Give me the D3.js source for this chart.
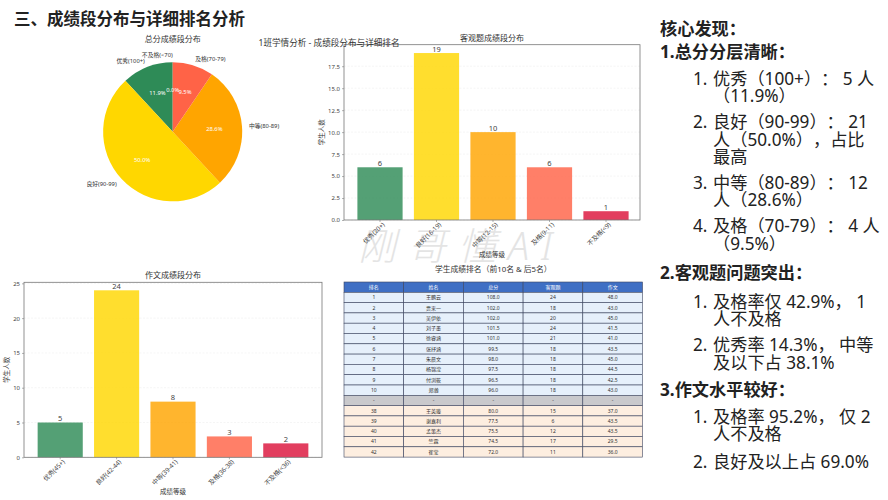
<!DOCTYPE html>
<html>
<head>
<meta charset="utf-8">
<script src="https://cdn.jsdelivr.net/npm/d3@7"></script>
<style>
  html, body { margin: 0; padding: 0; background: #fff; }
  svg { display: block; }
  text { font-family: "Noto Sans", "Noto Sans CJK SC", sans-serif; text-spacing-trim: space-all; }
</style>
</head>
<body>
<div id="chart"></div>
<script>
// Data
const gradeColors = ['#2E8B57', '#FFD700', '#FFA500', '#FF6347', '#DC143C'];

const totalLabels = ['优秀(100+)', '良好(90-99)', '中等(80-89)', '及格(70-79)', '不及格(<70)'];
const totalCounts = [5, 21, 12, 4, 0];

const objectiveLabels = ['优秀(20+)', '良好(16-19)', '中等(12-15)', '及格(9-11)', '不及格(<9)'];
const objectiveCounts = [6, 19, 10, 6, 1];
const objectiveTicks = [0, 2.5, 5, 7.5, 10, 12.5, 15, 17.5];

const essayLabels = ['优秀(45+)', '良好(42-44)', '中等(39-41)', '及格(36-38)', '不及格(<36)'];
const essayCounts = [5, 24, 8, 3, 2];
const essayTicks = [0, 5, 10, 15, 20, 25];

const tableHeader = ['排名', '姓名', '总分', '客观题', '作文'];
const tableRows = [
    ['1', '王鹏云', '108.0', '24', '48.0'],
    ['2', '贾来一', '102.0', '18', '43.0'],
    ['3', '吴伊依', '102.0', '20', '45.0'],
    ['4', '刘子墨', '101.5', '24', '41.5'],
    ['5', '徐睿涵', '101.0', '21', '41.0'],
    ['6', '张抒涵', '99.5', '18', '43.5'],
    ['7', '朱晨文', '98.0', '18', '45.0'],
    ['8', '杨锦滢', '97.5', '18', '44.5'],
    ['9', '付浏筱', '96.5', '18', '42.5'],
    ['10', '郑瀚', '96.0', '18', '43.0'],
    ['-', '-', '-', '-', '-'],
    ['38', '王英璇', '80.0', '15', '37.0'],
    ['39', '谢嘉利', '77.5', '6', '43.5'],
    ['40', '孟策杰', '75.5', '12', '43.5'],
    ['41', '竺霖', '74.5', '17', '29.5'],
    ['42', '崔莹', '72.0', '11', '36.0']
];

const noteLines = [
    ['head', '', '核心发现：'],
    ['head', '', '1.总分分层清晰：'],
    ['item', '1.', '优秀（100+）： 5 人'],
    ['more', '', '（11.9%）'],
    ['item', '2.', '良好（90-99）： 21'],
    ['more', '', '人（50.0%），占比'],
    ['more', '', '最高'],
    ['item', '3.', '中等（80-89）： 12'],
    ['more', '', '人（28.6%）'],
    ['item', '4.', '及格（70-79）： 4 人'],
    ['more', '', '（9.5%）'],
    ['head', '', '2.客观题问题突出：'],
    ['item', '1.', '及格率仅 42.9%， 1'],
    ['more', '', '人不及格'],
    ['item', '2.', '优秀率 14.3%， 中等'],
    ['more', '', '及以下占 38.1%'],
    ['head', '', '3.作文水平较好：'],
    ['item', '1.', '及格率 95.2%， 仅 2'],
    ['more', '', '人不及格'],
    ['item', '2.', '良好及以上占 69.0%']
];

const svg = d3.select('#chart').append('svg')
    .attr('width', 888)
    .attr('height', 500);

// Watermark sits behind everything
svg.append('text')
    .attr('x', 358)
    .attr('y', 260)
    .attr('font-size', 38)
    .attr('font-weight', 300)
    .attr('font-style', 'italic')
    .attr('letter-spacing', 12)
    .attr('fill', '#e4e4e4')
    .text('刚哥懂AI');

// Slide heading and the figure's own title
svg.append('text')
    .attr('x', 14)
    .attr('y', 25)
    .attr('font-size', 16.5)
    .attr('font-weight', 600)
    .attr('fill', '#222')
    .text('三、成绩段分布与详细排名分析');

// Pie chart, counter-clockwise from the top like the original
function drawPie(labels, counts, colors, cx, cy, radius) {
    const g = svg.append('g').attr('transform', `translate(${cx},${cy})`);
    const total = d3.sum(counts);
    const pie = d3.pie().sort(null).startAngle(0).endAngle(-2 * Math.PI);
    const slices = pie(counts);
    const arc = d3.arc().innerRadius(0).outerRadius(radius);
    const pctArc = d3.arc().innerRadius(radius * 0.6).outerRadius(radius * 0.6);
    const labelArc = d3.arc().innerRadius(radius * 1.1).outerRadius(radius * 1.1);

    g.selectAll('path')
        .data(slices)
        .enter().append('path')
        .attr('d', arc)
        .attr('fill', (d, i) => colors[i]);

    g.selectAll('.pct')
        .data(slices)
        .enter().append('text')
        .attr('class', 'pct')
        .attr('transform', d => `translate(${pctArc.centroid(d)})`)
        .attr('text-anchor', 'middle')
        .attr('dy', '0.35em')
        .attr('font-size', 5.8)
        .attr('fill', '#fff')
        .text(d => d3.format('.1f')(d.value / total * 100) + '%');

    g.selectAll('.name')
        .data(slices)
        .enter().append('text')
        .attr('class', 'name')
        .attr('transform', d => `translate(${labelArc.centroid(d)})`)
        .attr('text-anchor', d => labelArc.centroid(d)[0] > 0.01 ? 'start' : 'end')
        .attr('dy', '0.35em')
        .attr('font-size', 5.8)
        .attr('fill', '#333')
        .text((d, i) => labels[i]);

    svg.append('text')
        .attr('x', cx)
        .attr('y', cy - radius - 20)
        .attr('text-anchor', 'middle')
        .attr('font-size', 8)
        .attr('fill', '#333')
        .text('总分成绩段分布');
}

// Bar chart with a framed plot area
function drawBars(opts) {
    const {labels, counts, colors, ticks, title, left, right, top, bottom, yMax, fmt, barLeft, barRight, yLabelX, xLabelY} = opts;
    const g = svg.append('g');

    const x = d3.scaleBand()
        .domain(labels)
        .range([barLeft, barRight])
        .paddingInner(0.2)
        .paddingOuter(0.1);
    const y = d3.scaleLinear().domain([0, yMax]).range([bottom, top]);

    // Faint horizontal grid
    g.selectAll('.grid')
        .data(ticks)
        .enter().append('line')
        .attr('x1', left)
        .attr('x2', right)
        .attr('y1', d => y(d))
        .attr('y2', d => y(d))
        .attr('stroke', '#eeeeee')
        .attr('stroke-width', 0.6)
        .attr('stroke-dasharray', '2,1.5');

    g.selectAll('.bar')
        .data(counts)
        .enter().append('rect')
        .attr('x', (d, i) => x(labels[i]))
        .attr('y', d => y(d))
        .attr('width', x.bandwidth())
        .attr('height', d => bottom - y(d))
        .attr('fill', (d, i) => colors[i])
        .attr('fill-opacity', 0.82);

    g.selectAll('.val')
        .data(counts)
        .enter().append('text')
        .attr('x', (d, i) => x(labels[i]) + x.bandwidth() / 2)
        .attr('y', d => y(d) - 1.5)
        .attr('text-anchor', 'middle')
        .attr('font-size', 7.5)
        .attr('fill', '#444')
        .text(d => d);

    const xAxis = g.append('g')
        .attr('transform', `translate(0,${bottom})`)
        .call(d3.axisBottom(x).tickSize(2).tickPadding(2));
    xAxis.select('.domain').remove();
    xAxis.selectAll('line').attr('stroke', '#666').attr('stroke-width', 0.5);
    xAxis.selectAll('text')
        .attr('font-size', 6.3)
        .attr('fill', '#444')
        .attr('text-anchor', 'end')
        .attr('dy', '0.5em')
        .attr('transform', 'rotate(-45)');

    const yAxis = g.append('g')
        .attr('transform', `translate(${left},0)`)
        .call(d3.axisLeft(y).tickValues(ticks).tickFormat(d3.format(fmt)).tickSize(2).tickPadding(2));
    yAxis.select('.domain').remove();
    yAxis.selectAll('line').attr('stroke', '#666').attr('stroke-width', 0.5);
    yAxis.selectAll('text').attr('font-size', 6).attr('fill', '#444');

    // Frame
    g.append('rect')
        .attr('x', left)
        .attr('y', top)
        .attr('width', right - left)
        .attr('height', bottom - top)
        .attr('fill', 'none')
        .attr('stroke', '#777')
        .attr('stroke-width', 0.8);

    g.append('text')
        .attr('x', (left + right) / 2)
        .attr('y', top - 4)
        .attr('text-anchor', 'middle')
        .attr('font-size', 8)
        .attr('fill', '#333')
        .text(title);

    g.append('text')
        .attr('x', (left + right) / 2)
        .attr('y', xLabelY)
        .attr('text-anchor', 'middle')
        .attr('dy', '0.35em')
        .attr('font-size', 6.5)
        .attr('fill', '#333')
        .text('成绩等级');

    g.append('text')
        .attr('transform', `translate(${yLabelX},${(top + bottom) / 2}) rotate(-90)`)
        .attr('text-anchor', 'middle')
        .attr('dy', '0.35em')
        .attr('font-size', 6.5)
        .attr('fill', '#333')
        .text('学生人数');
}

// Ranking table, drawn as rects and text
function drawTable(header, rows, left, top, colWidth, rowHeight) {
    const g = svg.append('g');
    const col = d3.scaleLinear().domain([0, header.length]).range([left, left + colWidth * header.length]);
    const row = d3.scaleLinear().domain([0, rows.length + 1]).range([top, top + rowHeight * (rows.length + 1)]);

    const rowFill = i => {
        if (rows[i][0] === '-') return '#c9c9cc';
        return i < 10 ? '#e6f0fb' : '#fdeee0';
    };

    const all = [header].concat(rows);
    all.forEach((cells, r) => {
        cells.forEach((cell, c) => {
            g.append('rect')
                .attr('x', col(c))
                .attr('y', row(r))
                .attr('width', colWidth)
                .attr('height', rowHeight)
                .attr('fill', r === 0 ? '#3f6fc4' : rowFill(r - 1))
                .attr('stroke', '#3c4560')
                .attr('stroke-width', 0.6);
            g.append('text')
                .attr('x', col(c) + colWidth / 2)
                .attr('y', row(r) + rowHeight / 2)
                .attr('text-anchor', 'middle')
                .attr('dy', '0.35em')
                .attr('font-size', 5)
                .attr('fill', r === 0 ? '#fff' : '#333')
                .text(cell);
        });
    });

    svg.append('text')
        .attr('x', left + colWidth * header.length / 2)
        .attr('y', top - 10)
        .attr('text-anchor', 'middle')
        .attr('font-size', 7.8)
        .attr('fill', '#333')
        .text('学生成绩排名（前10名 & 后5名）');
}

// Right hand notes, vertical positions follow the slide's line spacing
function drawNotes(lines) {
    const g = svg.append('g').attr('fill', '#222').attr('font-size', 17.2);
    const gaps = {'head-head': 22.5, 'head-item': 27, 'item-more': 17.5, 'more-more': 17, 'more-item': 26, 'more-head': 27, 'item-item': 26, 'item-head': 27};
    let y = 29;
    lines.forEach((line, i) => {
        if (i > 0) y += gaps[lines[i - 1][0] + '-' + line[0]];
        if (i === 11) y += 2;
        if (i === 12) y += 2;
        if (i === 19) y += 2;
        const isHead = line[0] === 'head';
        if (line[1]) {
            g.append('text').attr('x', 693).attr('y', y).attr('dy', '0.35em').text(line[1]);
        }
        g.append('text')
            .attr('x', isHead ? 660 : 713)
            .attr('y', y)
            .attr('dy', '0.35em')
            .attr('font-weight', isHead ? 700 : 400)
            .text(line[2]);
    });
}

drawPie(totalLabels, totalCounts, gradeColors, 172.7, 131.7, 69.5);

drawBars({
    labels: objectiveLabels, counts: objectiveCounts, colors: gradeColors, ticks: objectiveTicks,
    title: '客观题成绩段分布', left: 344, right: 640, top: 44.7, bottom: 220, yMax: 19.95, fmt: '.1f',
    barLeft: 351.75, barRight: 634.25, yLabelX: 322, xLabelY: 255
});

drawBars({
    labels: essayLabels, counts: essayCounts, colors: gradeColors, ticks: essayTicks,
    title: '作文成绩段分布', left: 24, right: 322, top: 282.3, bottom: 457.3, yMax: 25.15, fmt: 'd',
    barLeft: 32, barRight: 314, yLabelX: 7, xLabelY: 492
});

drawTable(tableHeader, tableRows, 344, 282, 59.7, 10.3);
drawNotes(noteLines);

svg.append('text')
    .attr('x', 329)
    .attr('y', 46)
    .attr('text-anchor', 'middle')
    .attr('font-size', 8.6)
    .attr('fill', '#333')
    .text('1班学情分析 - 成绩段分布与详细排名');
</script>
</body>
</html>
